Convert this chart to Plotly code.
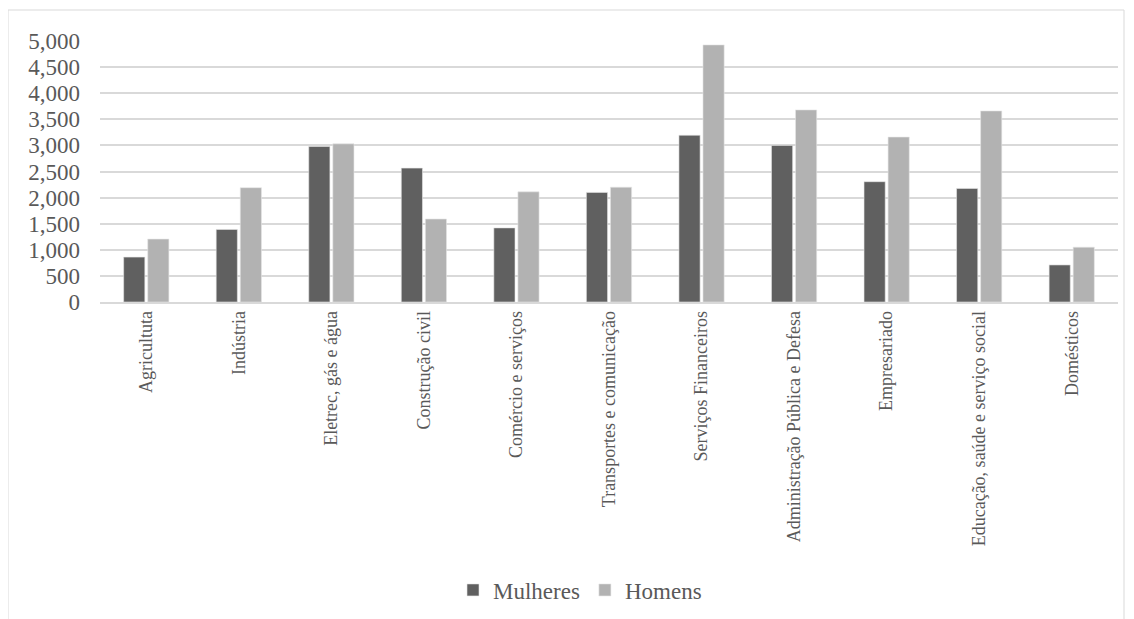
import plotly.graph_objects as go

categories = ["Agricultuta", "Indústria", "Eletrec, gás e água", "Construção civil",
              "Comércio e serviços", "Transportes e comunicação", "Serviços Financeiros",
              "Administração Pública e Defesa", "Empresariado",
              "Educação, saúde e serviço social", "Domésticos"]
mulheres = [860, 1390, 2980, 2565, 1420, 2100, 3195, 3000, 2305, 2175, 710]
homens = [1205, 2190, 3030, 1590, 2110, 2200, 4925, 3680, 3160, 3660, 1050]
yticks = [0, 500, 1000, 1500, 2000, 2500, 3000, 3500, 4000, 4500, 5000]

FONT = "'Liberation Serif', 'Times New Roman', serif"
OFF = 8  # page body margin
W, H = 1134, 619
# target plot area in page pixels: x 100..1118, y 40.7..302
L, R, T, B = 100 - OFF, W - (1118 - OFF), 41 - OFF, H - (302 - OFF)
pw, ph = W - L - R, H - T - B

def px(p):
    return (p - OFF - L) / pw

def py(p):
    return (H - B - (p - OFF)) / ph

fig = go.Figure()
fig.add_trace(go.Bar(x=categories, y=mulheres, name="Mulheres",
                     marker=dict(color="#606060", line=dict(color="#e6e6e6", width=0.6))))
fig.add_trace(go.Bar(x=categories, y=homens, name="Homens",
                     marker=dict(color="#b2b2b2", line=dict(color="#e6e6e6", width=0.6))))

fig.update_layout(
    width=W, height=H,
    margin=dict(l=L, r=R, t=T, b=B),
    paper_bgcolor="white", plot_bgcolor="white",
    barmode="group", bargap=0.48, bargroupgap=0.12,
    font=dict(family=FONT, color="#595959"),
    showlegend=True,
    legend=dict(orientation="h", x=px(580), xanchor="center", y=py(590), yanchor="middle",
                font=dict(family=FONT, size=23, color="#595959"), itemwidth=30),
    shapes=[dict(type="rect", xref="paper", yref="paper",
                 x0=px(8), x1=px(1124), y0=py(660), y1=py(10),
                 line=dict(color="#d9d9d9", width=1), layer="below")],
)
fig.update_xaxes(tickangle=-90, tickfont=dict(family=FONT, size=18, color="#595959"),
                 showline=True, linecolor="#d9d9d9", linewidth=1.5, ticks="", showgrid=False)
fig.update_yaxes(range=[0, 5000], tickvals=yticks, tickformat=",",
                 tickfont=dict(family=FONT, size=23, color="#595959"),
                 ticklabelstandoff=19,
                 showgrid=True, gridcolor="#d9d9d9", gridwidth=1.5,
                 zeroline=False, showline=False, ticks="")

fig.write_html("out.html")
